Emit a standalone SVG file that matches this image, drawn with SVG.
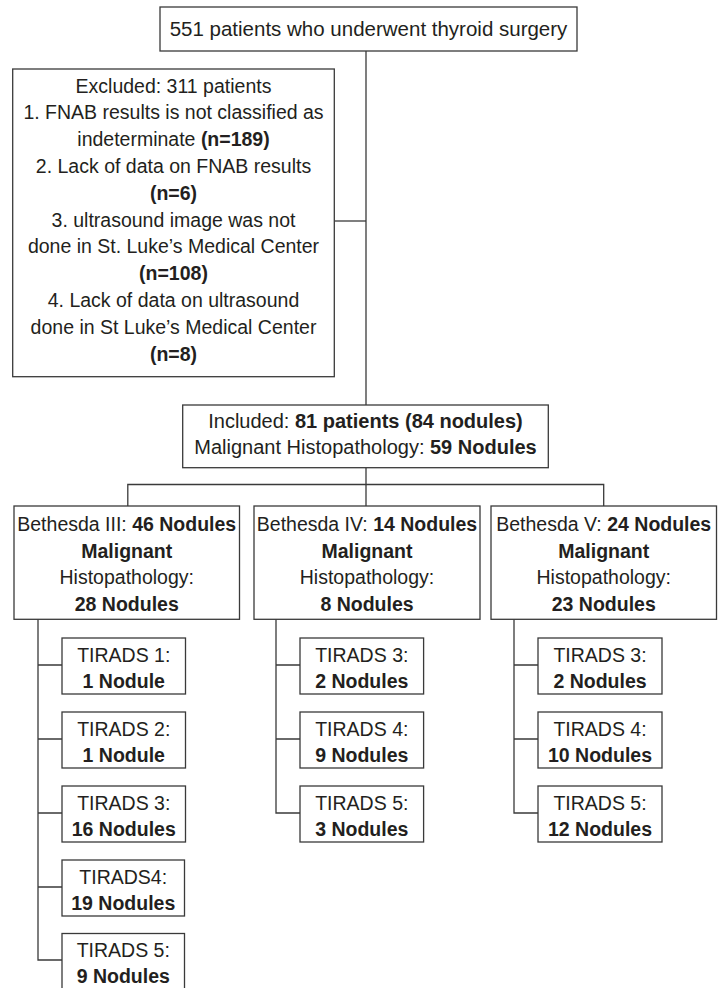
<svg xmlns="http://www.w3.org/2000/svg" width="725" height="988" viewBox="0 0 725 988">
<style>
  .box { fill: #ffffff; stroke: #3a3a3a; stroke-width: 1.3; }
  .conn { fill: none; stroke: #3a3a3a; stroke-width: 1.3; }
  text { font-family: "Liberation Sans", Arial, sans-serif; font-size: 19.5px; fill: #231f20; text-anchor: middle; }
  .b { font-weight: bold; }
</style>
<rect width="725" height="988" fill="#ffffff"/>

<g id="connectors">
  <path class="conn" d="M366 51 V405"/>
  <path class="conn" d="M334.3 221 H366"/>
  <path class="conn" d="M366 467.7 V506"/>
  <path class="conn" d="M127.8 506 V484.5 H603.7 V506"/>
  <path class="conn" d="M38 619.3 V960 H62 M38 665 H62 M38 739 H62 M38 813 H62 M38 887 H62"/>
  <path class="conn" d="M276 619.3 V813 H300 M276 665 H300 M276 739 H300"/>
  <path class="conn" d="M514 619.3 V813 H538 M514 665 H538 M514 739 H538"/>
</g>

<g id="n-total">
  <rect class="box" x="160" y="7" width="417" height="44"/>
  <text x="368.5" y="36" style="font-size:20.5px">551 patients who underwent thyroid surgery</text>
</g>

<g id="n-excluded">
  <rect class="box" x="12.7" y="69" width="321.6" height="307.7"/>
  <text x="173.5" y="92.5">Excluded: 311 patients</text>
  <text x="173.5" y="119.3">1. FNAB results is not classified as</text>
  <text x="173.5" y="146.1">indeterminate <tspan class="b">(n=189)</tspan></text>
  <text x="173.5" y="172.9">2. Lack of data on FNAB results</text>
  <text x="173.5" y="199.7" class="b">(n=6)</text>
  <text x="173.5" y="226.5">3. ultrasound image was not</text>
  <text x="173.5" y="253.3">done in St. Luke’s Medical Center</text>
  <text x="173.5" y="280.1" class="b">(n=108)</text>
  <text x="173.5" y="306.9">4. Lack of data on ultrasound</text>
  <text x="173.5" y="333.7">done in St Luke’s Medical Center</text>
  <text x="173.5" y="360.5" class="b">(n=8)</text>
</g>

<g id="n-included">
  <rect class="box" x="182.7" y="405" width="365.6" height="62.7"/>
  <text x="365.5" y="427.5" style="font-size:20px">Included: <tspan class="b">81 patients (84 nodules)</tspan></text>
  <text x="365.5" y="453.5" style="font-size:20px">Malignant Histopathology: <tspan class="b">59 Nodules</tspan></text>
</g>

<g id="n-beth3">
  <rect class="box" x="14" y="506" width="225.5" height="113.3"/>
  <text x="126.75" y="531">Bethesda III: <tspan class="b">46 Nodules</tspan></text>
  <text x="126.75" y="557.7" class="b">Malignant</text>
  <text x="126.75" y="584.3">Histopathology:</text>
  <text x="126.75" y="611" class="b">28 Nodules</text>
</g>

<g id="n-beth4">
  <rect class="box" x="254" y="506" width="226" height="113.3"/>
  <text x="367" y="531">Bethesda IV: <tspan class="b">14 Nodules</tspan></text>
  <text x="367" y="557.7" class="b">Malignant</text>
  <text x="367" y="584.3">Histopathology:</text>
  <text x="367" y="611" class="b">8 Nodules</text>
</g>

<g id="n-beth5">
  <rect class="box" x="491" y="506" width="225.5" height="113.3"/>
  <text x="603.75" y="531">Bethesda V: <tspan class="b">24 Nodules</tspan></text>
  <text x="603.75" y="557.7" class="b">Malignant</text>
  <text x="603.75" y="584.3">Histopathology:</text>
  <text x="603.75" y="611" class="b">23 Nodules</text>
</g>

<g id="n-b3-t1">
  <rect class="box" x="62" y="638" width="123.5" height="56"/>
  <text x="123.75" y="661.7">TIRADS 1:</text>
  <text x="123.75" y="687.7" class="b">1 Nodule</text>
</g>
<g id="n-b3-t2">
  <rect class="box" x="62" y="712" width="123.5" height="56"/>
  <text x="123.75" y="735.7">TIRADS 2:</text>
  <text x="123.75" y="761.7" class="b">1 Nodule</text>
</g>
<g id="n-b3-t3">
  <rect class="box" x="62" y="786" width="123.5" height="56"/>
  <text x="123.75" y="809.7">TIRADS 3:</text>
  <text x="123.75" y="835.7" class="b">16 Nodules</text>
</g>
<g id="n-b3-t4">
  <rect class="box" x="62" y="860" width="122.5" height="56"/>
  <text x="123.25" y="883.7">TIRADS4:</text>
  <text x="123.25" y="909.7" class="b">19 Nodules</text>
</g>
<g id="n-b3-t5">
  <rect class="box" x="62" y="933.5" width="122.5" height="56"/>
  <text x="123.25" y="957.2">TIRADS 5:</text>
  <text x="123.25" y="983.2" class="b">9 Nodules</text>
</g>

<g id="n-b4-t3">
  <rect class="box" x="300" y="638" width="123.6" height="56"/>
  <text x="361.8" y="661.7">TIRADS 3:</text>
  <text x="361.8" y="687.7" class="b">2 Nodules</text>
</g>
<g id="n-b4-t4">
  <rect class="box" x="300" y="712" width="123.6" height="56"/>
  <text x="361.8" y="735.7">TIRADS 4:</text>
  <text x="361.8" y="761.7" class="b">9 Nodules</text>
</g>
<g id="n-b4-t5">
  <rect class="box" x="300" y="786" width="123.6" height="56"/>
  <text x="361.8" y="809.7">TIRADS 5:</text>
  <text x="361.8" y="835.7" class="b">3 Nodules</text>
</g>

<g id="n-b5-t3">
  <rect class="box" x="538" y="638" width="124" height="56"/>
  <text x="600" y="661.7">TIRADS 3:</text>
  <text x="600" y="687.7" class="b">2 Nodules</text>
</g>
<g id="n-b5-t4">
  <rect class="box" x="538" y="712" width="124" height="56"/>
  <text x="600" y="735.7">TIRADS 4:</text>
  <text x="600" y="761.7" class="b">10 Nodules</text>
</g>
<g id="n-b5-t5">
  <rect class="box" x="538" y="786" width="124" height="56"/>
  <text x="600" y="809.7">TIRADS 5:</text>
  <text x="600" y="835.7" class="b">12 Nodules</text>
</g>
</svg>
